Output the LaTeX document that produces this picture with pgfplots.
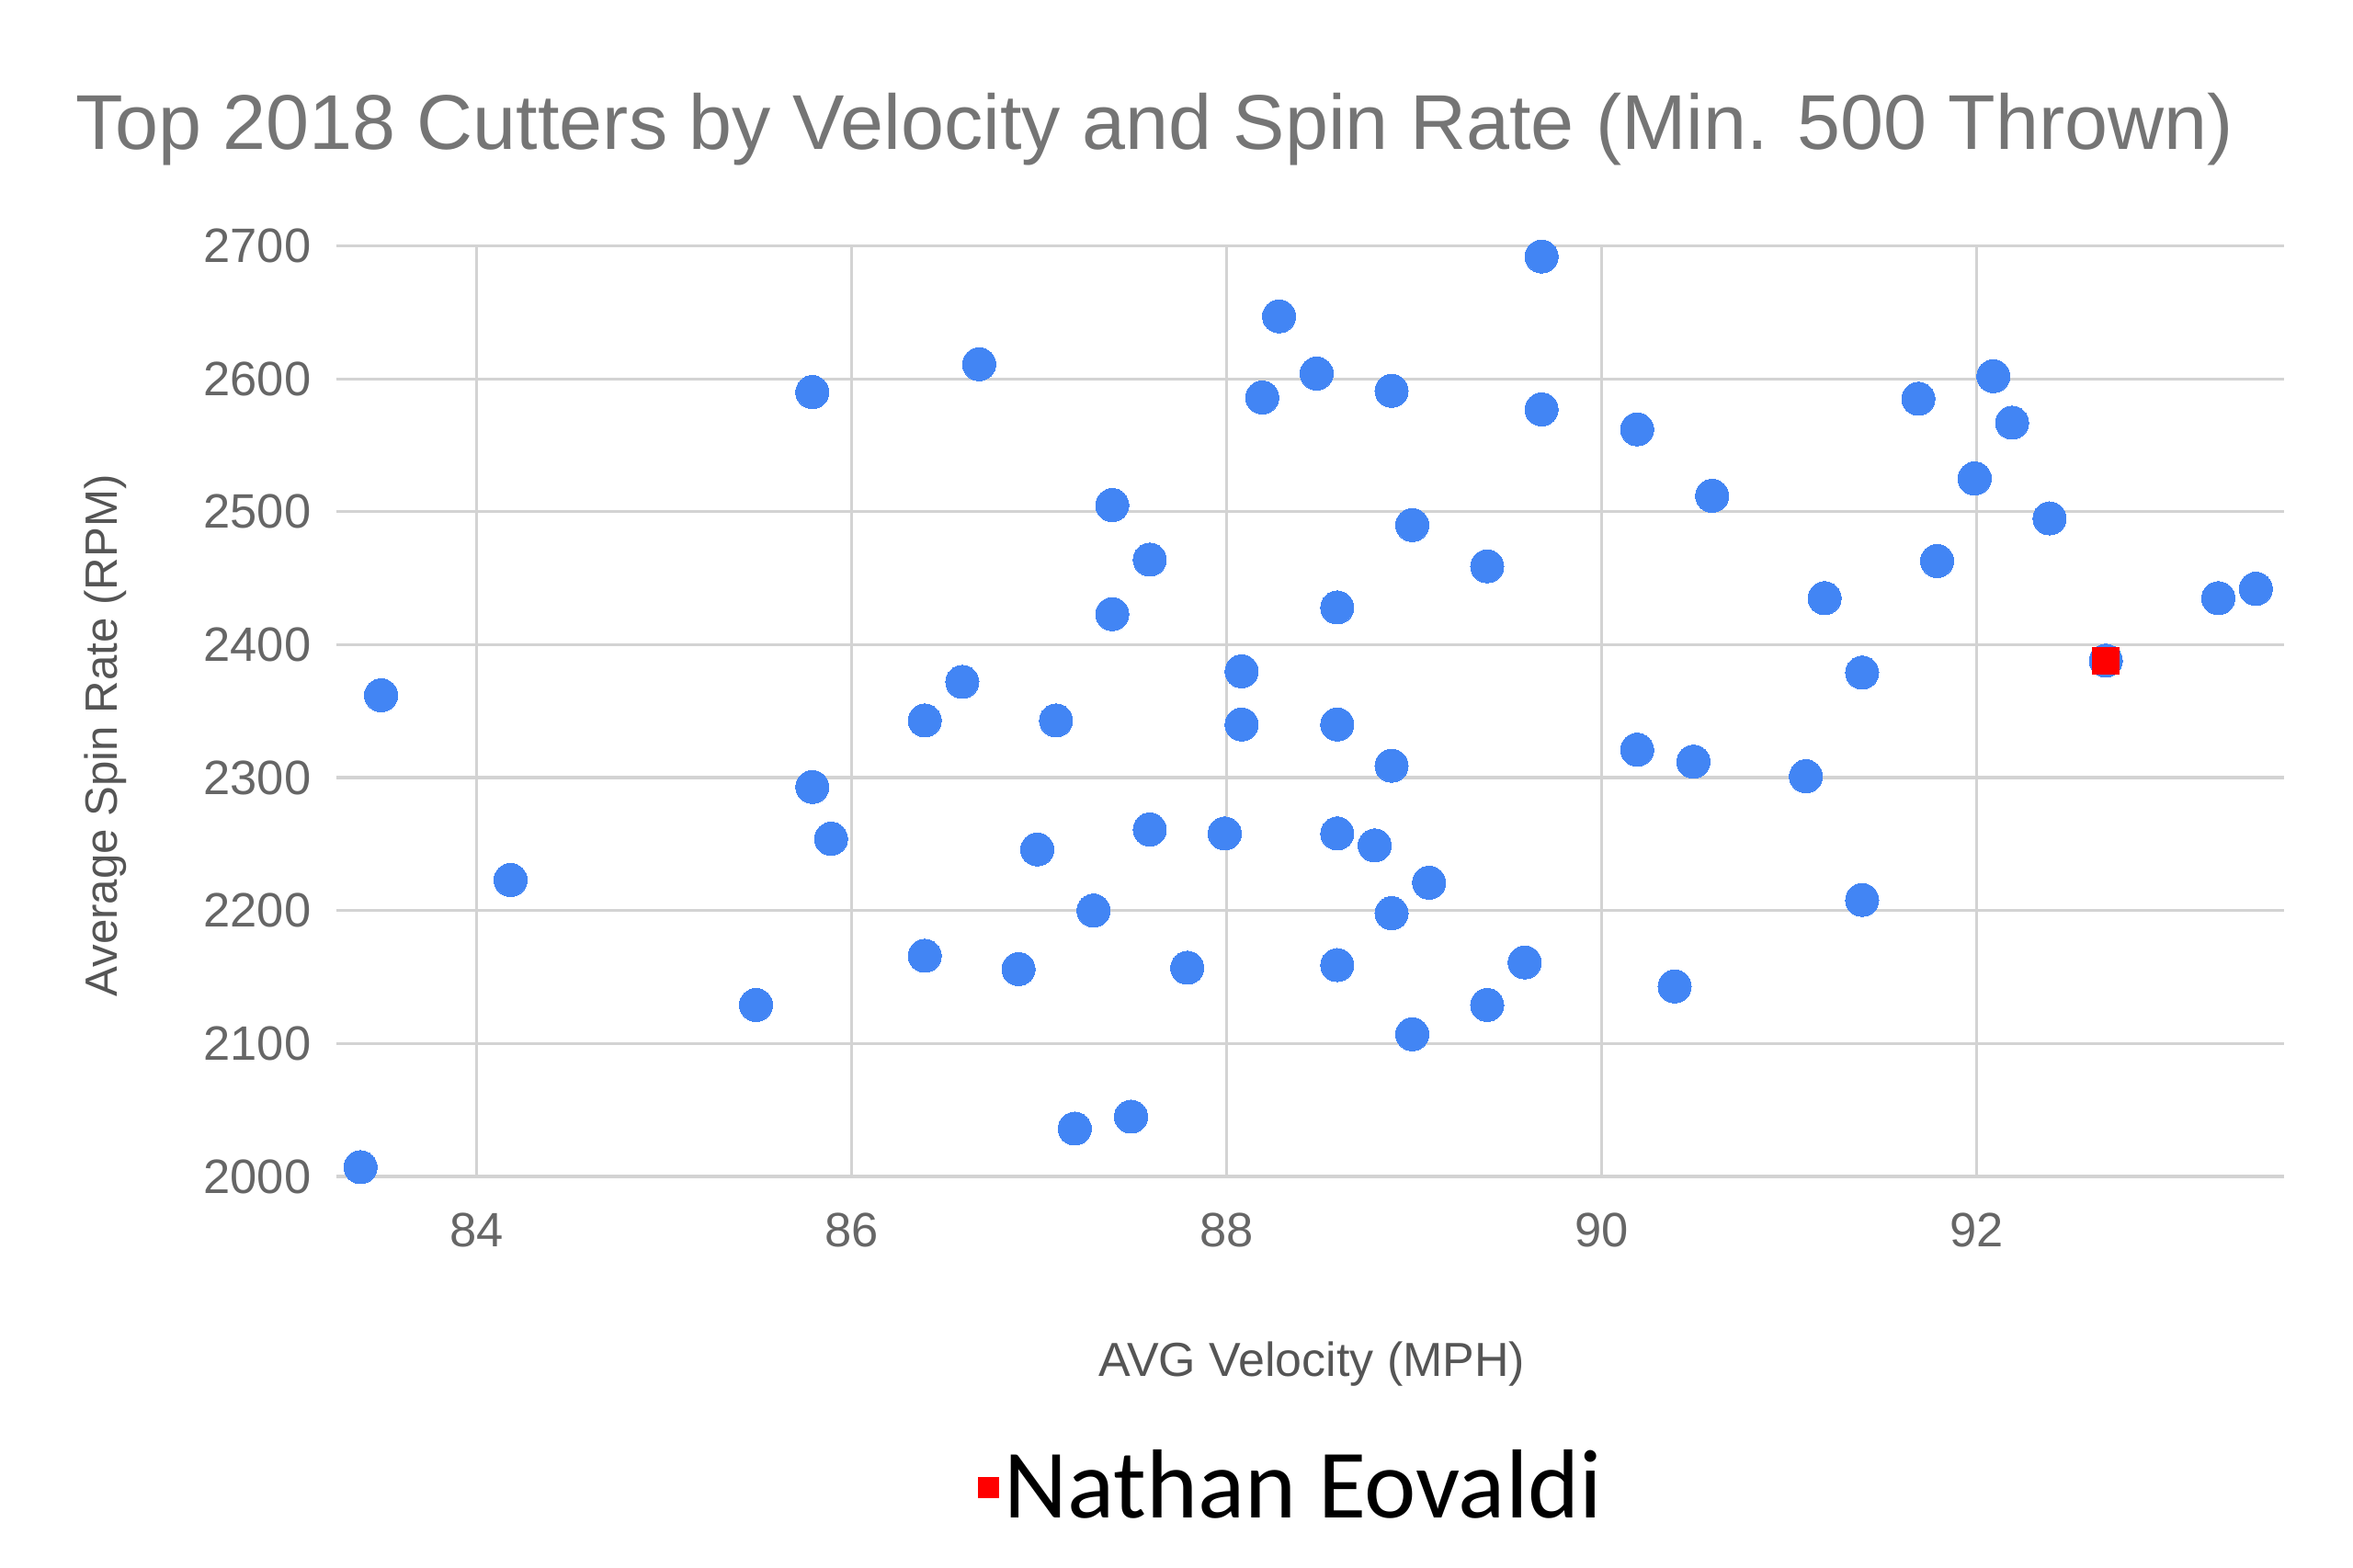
\documentclass[border=0pt]{standalone}
\usepackage{fontspec}
\setmainfont{Liberation Sans}
\newfontfamily\carlito{Carlito}
\usepackage{pgfplots}
\usepackage{pgfplotstable}
\pgfplotsset{compat=1.18}
\definecolor{gblue}{HTML}{4285F4}
\definecolor{gridgray}{HTML}{D3D3D3}
\definecolor{tickgray}{HTML}{666666}
\definecolor{labgray}{HTML}{555555}
\definecolor{titlegray}{HTML}{757575}
\pgfplotstableread{
x y
83.38 2007
83.49 2362
84.18 2223
85.49 2129
85.79 2590
85.79 2293
85.89 2254
86.39 2343
86.39 2166
86.59 2372
86.68 2611
86.89 2156
86.99 2246
87.09 2343
87.19 2036
87.29 2200
87.39 2505
87.39 2423
87.49 2045
87.59 2464
87.59 2261
87.79 2157
87.99 2258
88.08 2380
88.08 2340
88.19 2586
88.28 2647
88.48 2604
88.59 2428
88.59 2340
88.59 2258
88.59 2159
88.79 2249
88.88 2591
88.88 2309
88.88 2198
88.99 2490
88.99 2107
89.08 2221
89.39 2459
89.39 2129
89.59 2161
89.68 2692
89.68 2577
90.19 2562
90.19 2321
90.39 2143
90.49 2312
90.59 2512
91.09 2301
91.19 2435
91.39 2379
91.39 2208
91.69 2585
91.79 2463
91.99 2525
92.09 2602
92.19 2567
92.39 2495
92.69 2388
93.29 2435
93.49 2442
}\allpts
\pgfplotstableread{
x y
92.69 2388
}\eovaldi
\begin{document}
\begin{tikzpicture}
\path[use as bounding box] (0,0) rectangle (468bp,311.7bp);
\begin{axis}[
  at={(66.86bp,77.7bp)}, anchor=south west,
  scale only axis, width=387.4bp, height=185.1bp,
  xmin=83.25, xmax=93.64, ymin=2000, ymax=2700,
  xtick={84,86,88,90,92},
  ytick={2000,2100,2200,2300,2400,2500,2600,2700},
  grid=major,
  major grid style={color=gridgray, line width=0.6bp},
  axis line style={draw=none},
  tick style={draw=none},
  clip=false,
  /pgf/number format/assume math mode=true,
  /pgf/number format/set thousands separator={},
  ticklabel style={font=\fontsize{9.6bp}{11bp}\selectfont, text=tickgray},
  yticklabel style={anchor=east, inner sep=0pt, xshift=-4.8bp},
  xticklabel style={anchor=north, inner sep=0pt, yshift=-7bp},
  legend style={draw=none, fill=none, inner sep=0pt,
    at={(axis description cs:0.329,-0.334)}, anchor=west,
    font=\carlito\fontsize{19.5bp}{22bp}\selectfont,
    nodes={inner sep=0pt},
    /tikz/every even column/.append style={column sep=0pt}},
  legend cell align=left,
]
\addplot[only marks, mark=*, mark size=3.3bp, mark options={fill=gblue, draw=gblue, line width=0pt}, forget plot] table[x=x,y=y] {\allpts};
\addplot[only marks, mark=square*, mark size=2.6bp, mark options={fill=red, draw=red, line width=0pt},
  legend image code/.code={\fill[red] (-0.2bp,-1.9bp) rectangle (3.6bp,1.9bp);}] table[x=x,y=y] {\eovaldi};
\addlegendentry{\hspace{1.0bp}Nathan Eovaldi}
\end{axis}
\node[font=\fontsize{15.45bp}{18bp}\selectfont, text=titlegray, anchor=center] at (229.7bp,286.0bp) {Top 2018 Cutters by Velocity and Spin Rate (Min. 500 Thrown)};
\node[font=\fontsize{9.0bp}{11bp}\selectfont, text=labgray, rotate=90, anchor=center] at (20.9bp,165.4bp) {Average Spin Rate (RPM)};
\node[font=\fontsize{9.5bp}{11bp}\selectfont, text=labgray, anchor=center] at (260.9bp,40.4bp) {AVG Velocity (MPH)};
\end{tikzpicture}
\end{document}
